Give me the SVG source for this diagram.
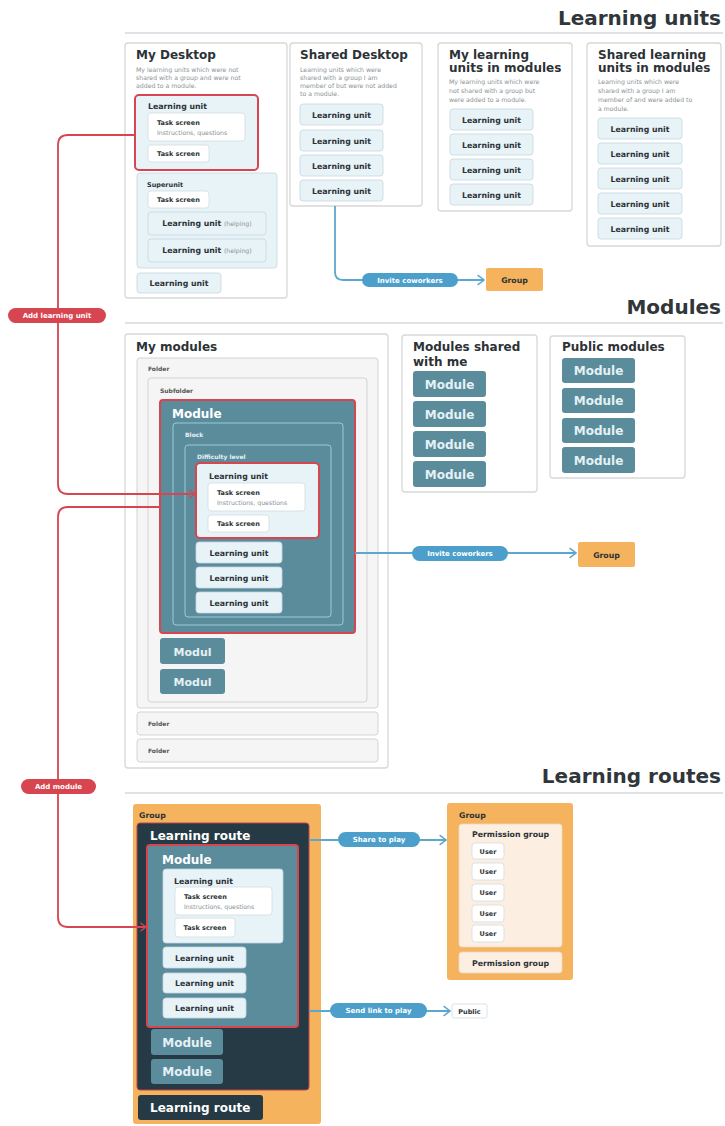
<svg xmlns="http://www.w3.org/2000/svg" width="725" height="1126" viewBox="0 0 725 1126">
<defs>
<style>
text{font-family:"DejaVu Sans","Liberation Sans",sans-serif;fill:#2c3236}
.h{font-size:20px;font-weight:bold;fill:#30363a}
.t{font-size:12px;font-weight:bold}
.d{font-size:6.2px;fill:#8b9195}
.l{font-size:7.8px;font-weight:bold}
.s{font-size:6.5px;font-weight:bold}
.g{font-size:6.2px;fill:#8b9195}
.f{font-size:6px;font-weight:bold;fill:#555}
.w{fill:#ffffff}
.wl{fill:#e4f1f5}
.m{text-anchor:middle}
.panel{fill:#ffffff;stroke:#d8d8d8;stroke-width:1.3}
.lu{fill:#e8f3f8;stroke:#c5d6df;stroke-width:0.8}
.ts{fill:#ffffff;stroke:#d2dce1;stroke-width:0.8}
.red{stroke:#d64550;stroke-width:2}
.mod{fill:#5b8c9c}
.inner{fill:#5b8c9c;stroke:#9ccad6;stroke-width:1}
.folder{fill:#f5f5f5;stroke:#d3d3d3;stroke-width:1}
.org{fill:#f6b35d}
.dark{fill:#253a44}
.pb{fill:#4d9fcb}
.pr{fill:#d64550}
.pt{font-size:7px;font-weight:bold;fill:#ffffff;text-anchor:middle}
.lb{fill:none;stroke:#5ca7cd;stroke-width:1.8}
.lr{fill:none;stroke:#d64550;stroke-width:1.8}
.rule{stroke:#d3d8df;stroke-width:1.5}
</style>
<marker id="ab" viewBox="0 0 10 14" refX="9" refY="7" markerWidth="8" markerHeight="12" orient="auto" markerUnits="userSpaceOnUse"><path d="M1,1 L9,7 L1,13" fill="none" stroke="#5ca7cd" stroke-width="1.8"/></marker>
<marker id="ar" viewBox="0 0 10 14" refX="9" refY="7" markerWidth="7" markerHeight="10" orient="auto" markerUnits="userSpaceOnUse"><path d="M1,1 L9,7 L1,13" fill="none" stroke="#d64550" stroke-width="1.8"/></marker>
</defs>
<rect width="725" height="1126" fill="#ffffff"/>

<g id="headings">
<text class="h" x="721" y="25" text-anchor="end">Learning units</text>
<line class="rule" x1="125" y1="33" x2="723" y2="33"/>
<text class="h" x="721" y="314" text-anchor="end">Modules</text>
<line class="rule" x1="125" y1="323" x2="723" y2="323"/>
<text class="h" x="721" y="783" text-anchor="end">Learning routes</text>
<line class="rule" x1="125" y1="793" x2="723" y2="793"/>
</g>

<!-- Learning units -->
<g id="my-desktop">
<rect class="panel" x="125" y="43" width="162" height="255" rx="3"/>
<text class="t" x="136" y="59">My Desktop</text>
<text class="d" x="136" y="72">My learning units which were not</text>
<text class="d" x="136" y="80">shared with a group and were not</text>
<text class="d" x="136" y="88">added to a module.</text>
</g>
<g id="desk-lu">
<rect class="lu red" x="135" y="95" width="123" height="75" rx="4"/>
<text class="l" x="148" y="109">Learning unit</text>
<rect class="ts" x="148" y="113" width="97" height="28" rx="3"/>
<text class="s" x="157" y="125">Task screen</text>
<text class="g" x="157" y="135">Instructions, questions</text>
<rect class="ts" x="148" y="145" width="61" height="17" rx="3"/>
<text class="s m" x="178.5" y="156">Task screen</text>
</g>
<g id="desk-superunit">
<rect class="lu" x="137" y="173" width="140" height="95" rx="3" fill="#e3eff5" stroke="#b9ccd6"/>
<text class="s" x="147" y="187">Superunit</text>
<rect class="ts" x="148" y="191" width="61" height="17" rx="3"/>
<text class="s m" x="178.5" y="202">Task screen</text>
<rect class="lu" x="148" y="212" width="118" height="23" rx="3"/>
<text class="l m" x="207" y="226">Learning unit <tspan class="g" font-weight="normal">(helping)</tspan></text>
<rect class="lu" x="148" y="239" width="118" height="23" rx="3"/>
<text class="l m" x="207" y="253">Learning unit <tspan class="g" font-weight="normal">(helping)</tspan></text>
</g>
<g id="desk-lu2">
<rect class="lu" x="137" y="273" width="84" height="20" rx="3"/>
<text class="l m" x="179" y="286">Learning unit</text>
</g>

<g id="shared-desktop">
<rect class="panel" x="290" y="43" width="132" height="163" rx="3"/>
<text class="t" x="300" y="59">Shared Desktop</text>
<text class="d" x="300" y="72">Learning units which were</text>
<text class="d" x="300" y="80">shared with a group I am</text>
<text class="d" x="300" y="88">member of but were not added</text>
<text class="d" x="300" y="96">to a module.</text>
<rect class="lu" x="300" y="104" width="83" height="21" rx="3"/>
<text class="l m" x="341.5" y="117.5">Learning unit</text>
<rect class="lu" x="300" y="130" width="83" height="21" rx="3"/>
<text class="l m" x="341.5" y="143.5">Learning unit</text>
<rect class="lu" x="300" y="155" width="83" height="21" rx="3"/>
<text class="l m" x="341.5" y="168.5">Learning unit</text>
<rect class="lu" x="300" y="180" width="83" height="21" rx="3"/>
<text class="l m" x="341.5" y="193.5">Learning unit</text>
</g>

<g id="my-lu-modules">
<rect class="panel" x="438" y="43" width="134" height="168" rx="3"/>
<text class="t" x="449" y="59">My learning</text>
<text class="t" x="449" y="72">units in modules</text>
<text class="d" x="449" y="84">My learning units which were</text>
<text class="d" x="449" y="93">not shared with a group but</text>
<text class="d" x="449" y="102">were added to a module.</text>
<rect class="lu" x="450" y="109" width="83" height="21" rx="3"/>
<text class="l m" x="491.5" y="122.5">Learning unit</text>
<rect class="lu" x="450" y="134" width="83" height="21" rx="3"/>
<text class="l m" x="491.5" y="147.5">Learning unit</text>
<rect class="lu" x="450" y="159" width="83" height="21" rx="3"/>
<text class="l m" x="491.5" y="172.5">Learning unit</text>
<rect class="lu" x="450" y="184" width="83" height="21" rx="3"/>
<text class="l m" x="491.5" y="197.5">Learning unit</text>
</g>

<g id="shared-lu-modules">
<rect class="panel" x="587" y="43" width="134" height="203" rx="3"/>
<text class="t" x="598" y="59">Shared learning</text>
<text class="t" x="598" y="72">units in modules</text>
<text class="d" x="598" y="84">Learning units which were</text>
<text class="d" x="598" y="93">shared with a group I am</text>
<text class="d" x="598" y="102">member of and were added to</text>
<text class="d" x="598" y="111">a module.</text>
<rect class="lu" x="598" y="118" width="84" height="21" rx="3"/>
<text class="l m" x="640" y="131.5">Learning unit</text>
<rect class="lu" x="598" y="143" width="84" height="21" rx="3"/>
<text class="l m" x="640" y="156.5">Learning unit</text>
<rect class="lu" x="598" y="168" width="84" height="21" rx="3"/>
<text class="l m" x="640" y="181.5">Learning unit</text>
<rect class="lu" x="598" y="193" width="84" height="21" rx="3"/>
<text class="l m" x="640" y="206.5">Learning unit</text>
<rect class="lu" x="598" y="218" width="84" height="21" rx="3"/>
<text class="l m" x="640" y="231.5">Learning unit</text>
</g>

<g id="group-units">
<rect class="org" x="486" y="268" width="57" height="23" rx="2"/>
<text class="l m" x="514.5" y="282.5">Group</text>
</g>

<!-- Modules -->
<g id="my-modules">
<rect class="panel" x="125" y="334" width="263" height="434" rx="3"/>
<text class="t" x="136" y="351">My modules</text>
<rect class="folder" x="137" y="358" width="241" height="350" rx="3"/>
<text class="f" x="148" y="371">Folder</text>
<rect class="folder" x="148" y="378" width="219" height="324" rx="3"/>
<text class="f" x="160" y="393">Subfolder</text>
</g>
<g id="mod-main">
<rect class="mod red" x="160" y="400" width="195" height="233" rx="3"/>
<text class="t w" x="172" y="418">Module</text>
<rect class="inner" x="173" y="423" width="170" height="202" rx="3"/>
<text class="f" x="185" y="437" style="fill:#e4f1f5">Block</text>
<rect class="inner" x="185" y="445" width="146" height="172" rx="3"/>
<text class="f" x="197" y="459" style="fill:#e4f1f5">Difficulty level</text>
</g>
<g id="mod-lu">
<rect class="lu red" x="196" y="463" width="123" height="75" rx="4"/>
<text class="l" x="209" y="479">Learning unit</text>
<rect class="ts" x="208" y="483" width="97" height="28" rx="3"/>
<text class="s" x="217" y="495">Task screen</text>
<text class="g" x="217" y="505">Instructions, questions</text>
<rect class="ts" x="208" y="515" width="61" height="17" rx="3"/>
<text class="s m" x="238.5" y="526">Task screen</text>
</g>
<g id="mod-lus">
<rect class="lu" x="196" y="542" width="86" height="21" rx="3"/>
<text class="l m" x="239" y="555.5">Learning unit</text>
<rect class="lu" x="196" y="567" width="86" height="21" rx="3"/>
<text class="l m" x="239" y="580.5">Learning unit</text>
<rect class="lu" x="196" y="592" width="86" height="21" rx="3"/>
<text class="l m" x="239" y="605.5">Learning unit</text>
</g>
<g id="moduls">
<rect class="mod" x="160" y="638" width="65" height="26" rx="3"/>
<text class="t wl m" x="192.5" y="655.5" style="font-size:11px">Modul</text>
<rect class="mod" x="160" y="669" width="65" height="25" rx="3"/>
<text class="t wl m" x="192.5" y="686" style="font-size:11px">Modul</text>
</g>
<g id="folders">
<rect class="folder" x="137" y="712" width="241" height="23" rx="3"/>
<text class="f" x="148" y="726">Folder</text>
<rect class="folder" x="137" y="739" width="241" height="23" rx="3"/>
<text class="f" x="148" y="753">Folder</text>
</g>

<g id="shared-modules">
<rect class="panel" x="402" y="335" width="135" height="157" rx="3"/>
<text class="t" x="413" y="351">Modules shared</text>
<text class="t" x="413" y="366">with me</text>
<rect class="mod" x="413" y="371" width="73" height="26" rx="3"/>
<text class="t wl m" x="449.5" y="388.5">Module</text>
<rect class="mod" x="413" y="401" width="73" height="26" rx="3"/>
<text class="t wl m" x="449.5" y="418.5">Module</text>
<rect class="mod" x="413" y="431" width="73" height="26" rx="3"/>
<text class="t wl m" x="449.5" y="448.5">Module</text>
<rect class="mod" x="413" y="461" width="73" height="26" rx="3"/>
<text class="t wl m" x="449.5" y="478.5">Module</text>
</g>
<g id="public-modules">
<rect class="panel" x="550" y="336" width="135" height="142" rx="3"/>
<text class="t" x="562" y="351">Public modules</text>
<rect class="mod" x="562" y="358" width="73" height="25" rx="3"/>
<text class="t wl m" x="598.5" y="375">Module</text>
<rect class="mod" x="562" y="388" width="73" height="25" rx="3"/>
<text class="t wl m" x="598.5" y="405">Module</text>
<rect class="mod" x="562" y="418" width="73" height="25" rx="3"/>
<text class="t wl m" x="598.5" y="435">Module</text>
<rect class="mod" x="562" y="447" width="73" height="26" rx="3"/>
<text class="t wl m" x="598.5" y="464.5">Module</text>
</g>
<g id="group-modules">
<rect class="org" x="578" y="542" width="57" height="25" rx="2"/>
<text class="l m" x="606.5" y="557.5">Group</text>
</g>

<!-- Learning routes -->
<g id="route-group">
<rect class="org" x="133" y="804" width="188" height="320" rx="3"/>
<text class="l" x="139" y="818">Group</text>
</g>
<g id="route-1">
<rect class="dark" x="137" y="823" width="172" height="267" rx="3" stroke="#b8454b" stroke-width="1"/>
<text class="t w" x="150" y="840">Learning route</text>
</g>
<g id="route-module">
<rect class="mod red" x="147" y="845" width="151" height="182" rx="3"/>
<text class="t w" x="162" y="864">Module</text>
<rect class="lu" x="163" y="869" width="120" height="74" rx="3"/>
<text class="l" x="174" y="884">Learning unit</text>
<rect class="ts" x="175" y="887" width="97" height="28" rx="3"/>
<text class="s" x="184" y="899">Task screen</text>
<text class="g" x="184" y="909">Instructions, questions</text>
<rect class="ts" x="175" y="918" width="60" height="19" rx="3"/>
<text class="s m" x="205" y="930">Task screen</text>
<rect class="lu" x="163" y="947" width="83" height="21" rx="3"/>
<text class="l m" x="204.5" y="960.5">Learning unit</text>
<rect class="lu" x="163" y="973" width="83" height="20" rx="3"/>
<text class="l m" x="204.5" y="986">Learning unit</text>
<rect class="lu" x="163" y="998" width="83" height="20" rx="3"/>
<text class="l m" x="204.5" y="1011">Learning unit</text>
</g>
<g id="route-modules">
<rect class="mod" x="151" y="1029" width="72" height="26" rx="3"/>
<text class="t wl m" x="187" y="1046.5">Module</text>
<rect class="mod" x="151" y="1059" width="72" height="25" rx="3"/>
<text class="t wl m" x="187" y="1076">Module</text>
</g>
<g id="route-2">
<rect class="dark" x="138" y="1095" width="125" height="25" rx="3"/>
<text class="t w" x="150" y="1112">Learning route</text>
</g>

<g id="play-group">
<rect class="org" x="447" y="803" width="126" height="177" rx="3"/>
<text class="l" x="459" y="818">Group</text>
<rect x="459" y="824" width="103" height="123" rx="3" fill="#fcefe2" stroke="#ead8c4" stroke-width="0.8"/>
<text class="l" x="472" y="837">Permission group</text>
<rect class="ts" x="472" y="843" width="32" height="16" rx="3"/>
<text class="s m" x="488" y="853.5">User</text>
<rect class="ts" x="472" y="863" width="32" height="17" rx="3"/>
<text class="s m" x="488" y="874">User</text>
<rect class="ts" x="472" y="884" width="32" height="17" rx="3"/>
<text class="s m" x="488" y="895">User</text>
<rect class="ts" x="472" y="905" width="32" height="17" rx="3"/>
<text class="s m" x="488" y="916">User</text>
<rect class="ts" x="472" y="925" width="32" height="17" rx="3"/>
<text class="s m" x="488" y="936">User</text>
<rect x="459" y="952" width="103" height="21" rx="3" fill="#fcefe2" stroke="#ead8c4" stroke-width="0.8"/>
<text class="l m" x="510.5" y="965.5">Permission group</text>
</g>
<g id="public">
<rect class="ts" x="452" y="1004" width="35" height="14" rx="2" stroke="#cfcfcf"/>
<text class="s m" x="469.5" y="1013.5">Public</text>
</g>

<g id="connectors">
<path class="lb" d="M335,206 V272 Q335,280 343,280 H484" marker-end="url(#ab)"/>
<path class="lb" d="M355,553 H576" marker-end="url(#ab)"/>
<path class="lb" d="M309,840 H446" marker-end="url(#ab)"/>
<path class="lb" d="M309,1011 H450" marker-end="url(#ab)"/>
<path class="lr" d="M135,135 H68 Q58,135 58,145 V484 Q58,494 68,494 H195" marker-end="url(#ar)"/>
<path class="lr" d="M160,507 H68 Q58,507 58,517 V917 Q58,927 68,927 H146" marker-end="url(#ar)"/>
<rect class="pb" x="362" y="273" width="96" height="14" rx="7"/>
<text class="pt" x="410" y="282.5">Invite coworkers</text>
<rect class="pb" x="412" y="546" width="96" height="15" rx="7.5"/>
<text class="pt" x="460" y="556">Invite coworkers</text>
<rect class="pb" x="338" y="832" width="82" height="15" rx="7.5"/>
<text class="pt" x="379" y="842">Share to play</text>
<rect class="pb" x="330" y="1003" width="97" height="15" rx="7.5"/>
<text class="pt" x="378.5" y="1013">Send link to play</text>
<rect class="pr" x="8" y="308" width="98" height="15" rx="7.5"/>
<text class="pt" x="57" y="318">Add learning unit</text>
<rect class="pr" x="21" y="779" width="75" height="15" rx="7.5"/>
<text class="pt" x="58.5" y="789">Add module</text>
</g>
</svg>
